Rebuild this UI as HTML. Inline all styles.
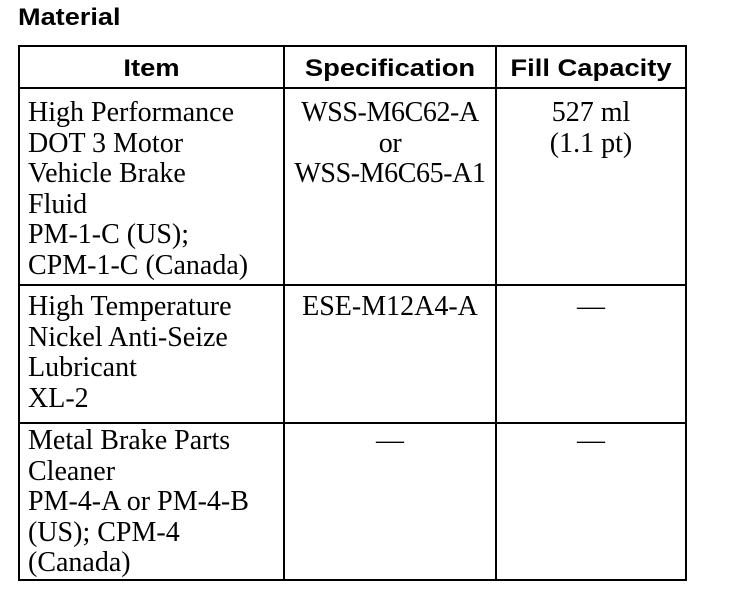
<!DOCTYPE html>
<html><head><meta charset="utf-8"><style>
body{margin:0;width:736px;height:596px;background:#fff;position:relative;overflow:hidden}
.t{position:absolute;font-family:"Liberation Sans",sans-serif;font-weight:bold;font-size:24px;line-height:24px;color:#000;white-space:nowrap}
.h{transform:scaleX(1.14);transform-origin:center}
.s{position:absolute;font-family:"Liberation Serif",serif;font-size:28px;line-height:30.5px;color:#000;white-space:pre}
.c{text-align:center}
.l{position:absolute;background:#000}
</style></head><body>
<div class="t" style="left:18px;top:6px;transform:scaleX(1.13);transform-origin:left">Material</div>
<div class="l" style="left:18px;top:45px;width:669px;height:2px"></div>
<div class="l" style="left:18px;top:579px;width:669px;height:2px"></div>
<div class="l" style="left:18px;top:45px;width:2px;height:536px"></div>
<div class="l" style="left:685px;top:45px;width:2px;height:536px"></div>
<div class="l" style="left:283px;top:45px;width:2px;height:536px"></div>
<div class="l" style="left:495px;top:45px;width:2px;height:536px"></div>
<div class="l" style="left:18px;top:87px;width:669px;height:2px"></div>
<div class="l" style="left:18px;top:284px;width:669px;height:2px"></div>
<div class="l" style="left:18px;top:422px;width:669px;height:2px"></div>
<div class="t c h" style="left:20px;width:263px;top:57px">Item</div>
<div class="t c h" style="left:285px;width:210px;top:57px">Specification</div>
<div class="t c h" style="left:497px;width:188px;top:57px">Fill Capacity</div>
<div class="s" style="left:28px;top:98px">High Performance
DOT 3 Motor
Vehicle Brake
Fluid
PM-1-C (US);
CPM-1-C (Canada)</div>
<div class="s c" style="left:285px;width:210px;top:98px;letter-spacing:-0.4px">WSS-M6C62-A
or
WSS-M6C65-A1</div>
<div class="s c" style="left:497px;width:188px;top:98px">527 ml
(1.1 pt)</div>
<div class="s" style="left:28px;top:292px">High Temperature
Nickel Anti-Seize
Lubricant
XL-2</div>
<div class="s c" style="left:285px;width:210px;top:292px">ESE-M12A4-A</div>
<div class="s c" style="left:497px;width:188px;top:292px">—</div>
<div class="s" style="left:28px;top:426px">Metal Brake Parts
Cleaner
PM-4-A or PM-4-B
(US); CPM-4
(Canada)</div>
<div class="s c" style="left:285px;width:210px;top:426px">—</div>
<div class="s c" style="left:497px;width:188px;top:426px">—</div>
</body></html>
